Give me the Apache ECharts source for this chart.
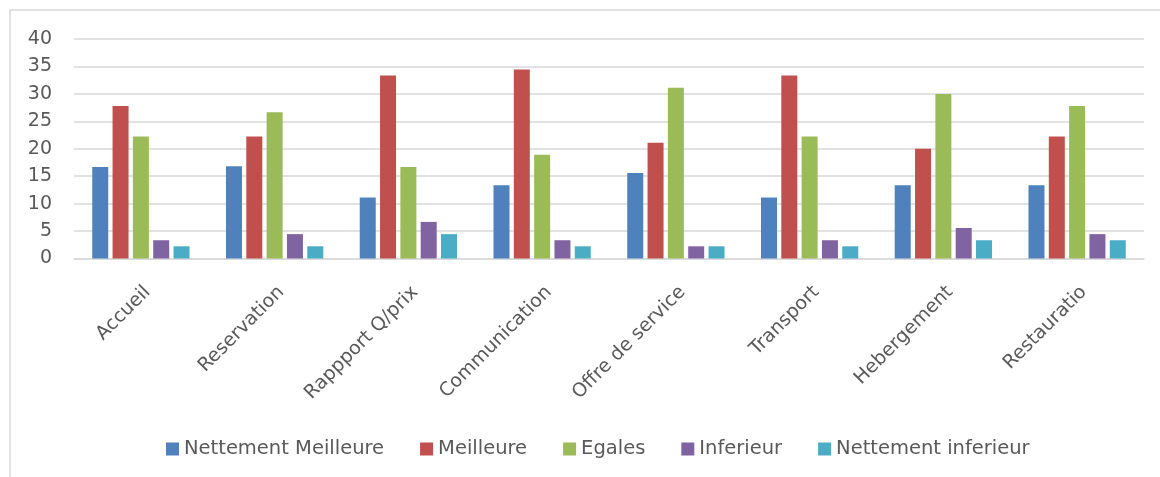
<!DOCTYPE html>
<html>
<head>
<meta charset="utf-8">
<script src="https://cdn.jsdelivr.net/npm/echarts@6/dist/echarts.min.js"></script>
<style>
html,body{margin:0;padding:0;background:#fff;}
#chart{width:1160px;height:477px;}
</style>
</head>
<body>
<div id="chart"></div>
<script>
var categories = ['Accueil', 'Reservation', 'Rappport Q/prix', 'Communication', 'Offre de service', 'Transport', 'Hebergement', 'Restauratio'];
var seriesNames = ['Nettement Meilleure', 'Meilleure', 'Egales', 'Inferieur', 'Nettement inferieur'];
var nettementMeilleure = [16.67, 16.8, 11.11, 13.33, 15.56, 11.11, 13.33, 13.33];
var meilleure = [27.78, 22.22, 33.33, 34.44, 21.11, 33.33, 20.0, 22.22];
var egales = [22.22, 26.67, 16.67, 18.89, 31.11, 22.22, 30.0, 27.78];
var inferieur = [3.33, 4.44, 6.67, 3.33, 2.22, 3.33, 5.56, 4.44];
var nettementInferieur = [2.22, 2.22, 4.44, 2.22, 2.22, 2.22, 3.33, 3.33];
var colors = ['#4F81BD', '#C0504D', '#9BBB59', '#8064A2', '#4BACC6'];

var values = [nettementMeilleure, meilleure, egales, inferieur, nettementInferieur];
var font = 'DejaVu Sans';
var textColor = '#595959';

var chart = echarts.init(document.getElementById('chart'), null, {renderer: 'canvas'});
var series = seriesNames.map(function (n, i) {
  return {
    name: n,
    type: 'bar',
    data: values[i],
    barWidth: 16,
    barGap: '27%',
    itemStyle: {color: colors[i]},
    emphasis: {disabled: true}
  };
});
chart.setOption({
  animation: false,
  color: colors,
  graphic: [{
    type: 'rect',
    shape: {x: 10, y: 10, width: 1200, height: 520},
    style: {fill: 'none', stroke: '#d9d9d9', lineWidth: 1.5},
    silent: true
  }],
  grid: {left: 74, right: 16, top: 39, bottom: 218.5},
  legend: {
    left: 161,
    top: 434,
    itemWidth: 13,
    itemHeight: 13,
    itemGap: 36,
    icon: 'rect',
    textStyle: {fontFamily: font, fontSize: 19.5, color: textColor},
    data: seriesNames
  },
  xAxis: {
    type: 'category',
    data: categories,
    axisLine: {show: true, lineStyle: {color: '#d9d9d9', width: 1.5}},
    axisTick: {show: false},
    axisLabel: {
      rotate: 45,
      interval: 0,
      margin: 24,
      verticalAlign: 'top',
      fontFamily: font,
      fontSize: 19,
      color: textColor
    }
  },
  yAxis: {
    type: 'value',
    min: 0,
    max: 40,
    interval: 5,
    axisLine: {show: false},
    axisTick: {show: false},
    splitLine: {lineStyle: {color: '#d9d9d9', width: 1.5}},
    axisLabel: {margin: 22, fontFamily: font, fontSize: 19, color: textColor}
  },
  series: series
});
</script>
</body>
</html>
